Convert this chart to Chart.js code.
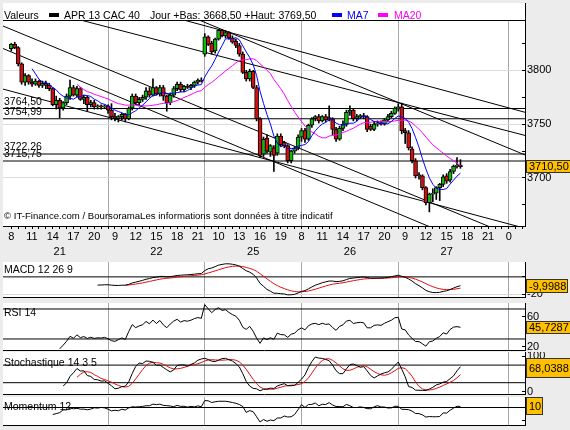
<!DOCTYPE html>
<html>
<head>
<meta charset="utf-8">
<script src="https://cdn.jsdelivr.net/npm/chart.js"></script>
<style>
  body { margin:0; width:570px; height:430px; overflow:hidden; position:relative; background:#ececec;
         font-family:"Liberation Sans", Arial, sans-serif; }
  .panel { position:absolute; left:3px; width:522px; background:#fff; }
  canvas { position:absolute; left:0; }
  #head { position:absolute; left:0; top:0; width:570px; height:20px; font-size:10.5px; }
  #head span { position:absolute; top:9px; line-height:12px; white-space:nowrap; }
  #head i { position:absolute; top:13px; width:10px; height:4px; }
  .rule { position:absolute; background:#000; }
</style>
</head>
<body>
<div class="panel" style="top:3px;height:223px"></div>
<div class="panel" style="top:262px;height:35px"></div>
<div class="panel" style="top:303px;height:47px"></div>
<div class="panel" style="top:352px;height:42px"></div>
<div class="panel" style="top:397px;height:28px"></div>

<canvas id="main" width="570" height="262" style="top:0"></canvas>
<canvas id="macd" width="570" height="36" style="top:262px"></canvas>
<canvas id="rsi" width="570" height="48" style="top:303px"></canvas>
<canvas id="stoch" width="570" height="43" style="top:352px"></canvas>
<canvas id="mom" width="570" height="29" style="top:397px"></canvas>

<div class="rule" style="left:3px;top:20px;width:523px;height:1px"></div>
<div class="rule" style="left:525px;top:3px;width:1px;height:18px"></div>
<div id="head">
  <span style="left:4px">Valeurs</span>
  <i style="left:49px;background:#000"></i>
  <span style="left:64px">APR 13 CAC 40</span>
  <span style="left:150px">Jour +Bas: 3668,50 +Haut: 3769,50</span>
  <i style="left:332px;background:#0000ff"></i>
  <span style="left:347px;color:#0000ff">MA7</span>
  <i style="left:378px;background:#ff00ff"></i>
  <span style="left:394px;color:#ff00ff">MA20</span>
</div>

<script>
// 30 min candles, trading day 8h-22h (14 hours on the axis)
const days = ['21', '22', '25', '26', '27'];
const candlesPerDay = [28, 28, 28, 28, 19];
const hourLabels = ['8','11','14','17','20', '9','12','15','18','21', '10','13','16','19',
                    '8','11','14','17','20', '9','12','15','18','21', '0'];
const dayCenters = [7, 21, 35, 49, 63];
const dayBounds = [14, 28, 42, 56, 72];

const opens = [
  3820,3824,3821,3806,3789,3795,3789,3787,3790,3786,3788,3786,3783,3768,3772,3765,3770,3776,3784,3777,3783,3773,3775,3768,3770,3766,3767,3766,
  3767,3763,3757,3755,3757,3759,3755,3765,3776,3770,3773,3775,3781,3777,3784,3778,3784,3776,3770,3777,3783,3787,3782,3785,3784,3786,3789,3791,
  3815,3831,3825,3818,3829,3837,3832,3835,3830,3827,3823,3815,3798,3792,3799,3784,3755,3722,3737,3724,3728,3723,3739,3733,3730,3716,3725,3728,
  3738,3744,3736,3749,3755,3757,3753,3757,3756,3755,3745,3736,3746,3750,3761,3763,3755,3757,3758,3757,3748,3745,3750,3751,3750,3754,3757,3760,
  3764,3766,3744,3742,3727,3716,3703,3702,3691,3677,3685,3686,3691,3694,3702,3698,3706,3711,3712
];
const highs = [
  3825,3826,3822,3807,3797,3796,3792,3792,3791,3790,3790,3788,3784,3776,3774,3771,3778,3791,3786,3785,3784,3777,3776,3772,3772,3768,3768,3768,
  3768,3769,3760,3758,3760,3760,3766,3778,3778,3775,3777,3784,3784,3792,3785,3786,3786,3777,3779,3785,3789,3789,3786,3787,3787,3790,3792,3793,
  3834,3832,3827,3830,3838,3838,3837,3836,3832,3829,3825,3817,3800,3801,3800,3786,3756,3738,3740,3731,3730,3741,3741,3734,3731,3726,3729,3740,
  3746,3746,3750,3756,3758,3759,3758,3759,3767,3756,3747,3748,3753,3763,3767,3764,3759,3759,3760,3758,3750,3752,3753,3753,3755,3759,3762,3766,
  3769,3769.5,3746,3744,3729,3718,3705,3703,3692,3686,3690,3692,3695,3703,3704,3708,3712,3719,3717
];
const lows = [
  3818,3820,3804,3787,3786,3787,3785,3786,3784,3784,3783,3781,3767,3764,3756,3763,3768,3773,3776,3775,3772,3769,3762,3766,3764,3764,3764,3765,
  3760,3754,3753,3752,3754,3752,3754,3763,3768,3767,3771,3773,3775,3776,3777,3776,3772,3762,3768,3775,3781,3780,3780,3783,3782,3784,3787,3789,
  3813,3823,3815,3816,3828,3831,3830,3829,3825,3821,3813,3797,3790,3790,3783,3753,3719,3720,3723,3720,3706,3721,3729,3728,3714,3714,3723,3726,
  3734,3733,3735,3747,3753,3751,3752,3752,3753,3740,3734,3735,3744,3748,3758,3753,3753,3755,3755,3743,3744,3744,3748,3749,3749,3752,3756,3759,
  3762,3741,3732,3726,3714,3700,3699,3689,3675,3668.5,3678,3680,3679,3692,3695,3696,3704,3709,3709
];
const closes = [
  3824,3821,3806,3789,3795,3789,3787,3790,3786,3788,3786,3783,3768,3772,3765,3770,3776,3784,3777,3783,3773,3775,3768,3770,3766,3767,3766,3767,
  3763,3757,3755,3757,3759,3755,3765,3776,3770,3773,3775,3781,3777,3784,3778,3784,3776,3770,3777,3783,3787,3782,3785,3784,3786,3789,3791,3790,
  3831,3824,3817,3829,3837,3832,3835,3830,3826,3823,3815,3798,3792,3799,3784,3755,3721,3736,3725,3730,3721,3739,3731,3730,3716,3725,3728,3738,
  3744,3736,3749,3755,3757,3753,3757,3754,3755,3745,3736,3746,3750,3761,3763,3755,3757,3758,3757,3745,3745,3750,3751,3750,3754,3757,3760,3765,
  3766,3744,3742,3728,3716,3702,3702,3691,3677,3685,3686,3691,3694,3701,3697,3706,3711,3712,3710.5
];

// support levels and trend lines (time in axis hours, price)
const levels = [3764.50, 3754.99, 3722.26, 3715.75];
const levelTexts = ['3764,50', '3754,99', '3722,26', '3715,75'];
const trendLines = [
  [-1.64, 3821.4, 62.3, 3650],
  [-1.64, 3783.3, 74.4, 3653.2],
  [-1.64, 3842.3, 71.0, 3650],
  [9.46, 3847.6, 74.34, 3739.5],
  [24.41, 3847.6, 74.34, 3761.0],
  [26.83, 3847.6, 74.34, 3721.4]
];

const priceTicks = [3675, 3700, 3725, 3750, 3775, 3800, 3825];
const lastValues = { price: 3710.50, macd: -9.9988, rsi: 45.7287, stoch: 68.0388, mom: 10 };
const lastTexts = { price: '3710,50', macd: '-9,9988', rsi: '45,7287', stoch: '68,0388', mom: '10' };
const copyright = '\u00a9 IT-Finance.com / BoursoramaLes informations sont donn\u00e9es \u00e0 titre indicatif';

const xMin = -1.2, xMax = 74.34;
const FONT = '"Liberation Sans", Arial, sans-serif';
Chart.defaults.font.family = FONT;
Chart.defaults.font.size = 11;
Chart.defaults.color = '#000';

const times = [];
candlesPerDay.forEach((n, d) => { for (let s = 0; s < n; s++) times.push(d * 14 + s * 0.5); });

// indicators
function sma(arr, n) {
  return arr.map((v, i) => {
    if (i < n - 1) return null;
    let s = 0;
    for (let k = i - n + 1; k <= i; k++) { if (arr[k] == null) return null; s += arr[k]; }
    return s / n;
  });
}
function ema(arr, n) {
  const out = arr.map(() => null);
  const start = arr.findIndex(v => v != null);
  const seed = start + n - 1;
  if (start < 0 || seed >= arr.length) return out;
  let s = 0;
  for (let i = start; i <= seed; i++) s += arr[i];
  out[seed] = s / n;
  const k = 2 / (n + 1);
  for (let i = seed + 1; i < arr.length; i++) out[i] = arr[i] * k + out[i - 1] * (1 - k);
  return out;
}
function rsi(c, n) {
  const out = c.map(() => null);
  let g = 0, l = 0;
  for (let i = 1; i <= n; i++) { const d = c[i] - c[i - 1]; if (d > 0) g += d; else l -= d; }
  g /= n; l /= n;
  out[n] = l === 0 ? 100 : 100 - 100 / (1 + g / l);
  for (let i = n + 1; i < c.length; i++) {
    const d = c[i] - c[i - 1];
    g = (g * (n - 1) + Math.max(d, 0)) / n;
    l = (l * (n - 1) + Math.max(-d, 0)) / n;
    out[i] = l === 0 ? 100 : 100 - 100 / (1 + g / l);
  }
  return out;
}

const ma7 = sma(closes, 7);
const ma20 = sma(closes, 20);
const ema12 = ema(closes, 12), ema26 = ema(closes, 26);
const macd = closes.map((_, i) => ema12[i] != null && ema26[i] != null ? ema12[i] - ema26[i] : null);
const signal = ema(macd, 9);
const rsi14 = rsi(closes, 14);
const rawK = closes.map((c, i) => {
  if (i < 13) return null;
  const hh = Math.max(...highs.slice(i - 13, i + 1)), ll = Math.min(...lows.slice(i - 13, i + 1));
  return (c - ll) / (hh - ll) * 100;
});
const stochK = sma(rawK, 3);
const stochD = sma(stochK, 5);
const mom12 = closes.map((c, i) => i < 12 ? null : c - closes[i - 12]);

const pts = arr => arr.map((v, i) => v == null ? null : { x: times[i], y: v }).filter(Boolean);
const lineDs = (data, color, order) => ({ type: 'line', data, borderColor: color, borderWidth: 1,
  pointRadius: 0, order: order || 1 });
const hline = (v, order) => lineDs([{ x: xMin - 1, y: v }, { x: xMax + 1, y: v }], '#000', order || 5);

function drawBox(ctx, text, x, yc, h) {
  ctx.font = '11px ' + FONT;
  const w = Math.round(ctx.measureText(text).width) + 5;
  const top = Math.round(yc - h / 2);
  ctx.fillStyle = '#ffc000';
  ctx.fillRect(x, top, w, h);
  ctx.strokeStyle = '#333';
  ctx.lineWidth = 1;
  ctx.strokeRect(x + 0.5, top + 0.5, w - 1, h - 1);
  ctx.fillStyle = '#000';
  ctx.textAlign = 'left';
  ctx.textBaseline = 'middle';
  ctx.fillText(text, x + 3, top + h / 2 + 0.5);
}

const noPad = s => { s.paddingTop = 0; s.paddingBottom = 0; s.paddingLeft = 0; s.paddingRight = 0; };

// main price chart
const mainText = {
  id: 'mainText',
  afterDraw(chart) {
    const { ctx } = chart;
    const y = chart.scales.y;
    ctx.save();
    ctx.fillStyle = '#000';
    ctx.textAlign = 'left';
    ctx.textBaseline = 'middle';
    ctx.font = '10.5px ' + FONT;
    levels.forEach((lv, i) => ctx.fillText(levelTexts[i], 4, y.getPixelForValue(lv) - 6.5));
    ctx.font = '9.6px ' + FONT;
    ctx.fillText(copyright, 4, 216);
    drawBox(ctx, lastTexts.price, 526, y.getPixelForValue(lastValues.price), 13);
    ctx.restore();
  }
};

new Chart(document.getElementById('main'), {
  type: 'bar',
  data: {
    datasets: [
      lineDs(pts(ma7), '#0000ff', 1),
      lineDs(pts(ma20), '#ff00ff', 2),
      {
        data: times.map((t, i) => ({ x: t, y: [opens[i], closes[i]] })),
        backgroundColor: closes.map((c, i) => c >= opens[i] ? '#10b810' : '#d01010'),
        borderColor: '#000', borderWidth: 1, borderSkipped: false,
        barThickness: 4, minBarLength: 1, grouped: false, order: 3
      },
      {
        data: times.map((t, i) => ({ x: t, y: [lows[i], highs[i]] })),
        backgroundColor: '#000', barThickness: 1, grouped: false, order: 4
      },
      ...levels.map(lv => hline(lv, 5)),
      ...trendLines.map(([x1, y1, x2, y2]) => lineDs([{ x: x1, y: y1 }, { x: x2, y: y2 }], '#000', 6))
    ]
  },
  options: {
    responsive: false, animation: false, events: [],
    layout: { padding: { left: 3, top: 20, right: 0, bottom: 0 } },
    plugins: { legend: { display: false }, tooltip: { enabled: false } },
    scales: {
      x: {
        type: 'linear', axis: 'x', position: 'bottom', min: xMin, max: xMax, offset: false, weight: 0,
        afterBuildTicks: s => { s.ticks = []; for (let v = 0; v <= 74; v++) s.ticks.push({ value: v }); },
        afterFit: s => { s.height = 18; noPad(s); },
        grid: { offset: false, color: c => dayBounds.includes(c.tick && c.tick.value) ? '#a8a8a8' : 'rgba(0,0,0,0)',
                tickColor: '#000', tickLength: 3 },
        border: { color: '#000' },
        ticks: { autoSkip: false, maxRotation: 0, padding: 1,
                 callback: v => v % 3 === 0 ? hourLabels[v / 3] : '' }
      },
      xd: {
        type: 'linear', axis: 'x', position: 'bottom', min: xMin, max: xMax, offset: false, weight: 1,
        afterBuildTicks: s => { s.ticks = dayCenters.map(v => ({ value: v })); },
        afterFit: s => { s.height = 18; noPad(s); },
        grid: { display: false, drawTicks: false, tickLength: 0 }, border: { display: false },
        ticks: { autoSkip: false, maxRotation: 0, padding: 1, callback: (v, i) => days[i] }
      },
      y: {
        position: 'right', min: 3655.4, max: 3846.7,
        afterBuildTicks: s => { s.ticks = priceTicks.map(v => ({ value: v })); },
        afterFit: s => { s.width = 45; noPad(s); },
        grid: { color: c => c.tick && c.tick.value % 50 === 0 ? '#dcdcdc' : 'rgba(0,0,0,0)',
                tickColor: '#000', tickLength: -3 },
        border: { color: '#000' },
        ticks: { padding: 5, callback: v => v % 50 === 0 ? String(v) : '' }
      }
    }
  },
  plugins: [mainText]
});

// indicator panels
function panel(id, cfg) {
  const textPlugin = {
    id: id + 'Text',
    afterDraw(chart) {
      const { ctx } = chart;
      ctx.save();
      ctx.fillStyle = '#000';
      ctx.textAlign = 'left';
      ctx.textBaseline = 'middle';
      ctx.font = '10.5px ' + FONT;
      ctx.fillText(cfg.title, 4, cfg.titleY);
      drawBox(ctx, cfg.boxText, 526, chart.scales.y.getPixelForValue(cfg.boxValue), cfg.boxH);
      ctx.restore();
    }
  };
  new Chart(document.getElementById(id), {
    type: 'line',
    data: { datasets: [...cfg.series, ...cfg.refs.map(v => hline(v, 5))] },
    options: {
      responsive: false, animation: false, events: [],
      layout: { padding: { left: 3, top: 0, right: 0, bottom: 0 } },
      plugins: { legend: { display: false }, tooltip: { enabled: false } },
      scales: {
        x: {
          type: 'linear', min: xMin, max: xMax,
          afterBuildTicks: s => { s.ticks = dayBounds.map(v => ({ value: v })); },
          afterFit: s => { s.height = 1; noPad(s); },
          grid: { color: '#a8a8a8', drawTicks: false },
          border: { color: '#000' },
          ticks: { display: false }
        },
        y: {
          position: 'right', min: cfg.min, max: cfg.max,
          afterBuildTicks: s => { s.ticks = cfg.ticks.map(v => ({ value: v })); },
          afterFit: s => { s.width = 45; noPad(s); },
          grid: { color: c => cfg.gridAt.includes(c.tick && c.tick.value) ? '#d8d8d8' : 'rgba(0,0,0,0)',
                  tickColor: '#000', tickLength: -3 },
          border: { color: '#000' },
          ticks: { padding: 5, callback: (v, i) => cfg.labels[i] }
        }
      }
    },
    plugins: [textPlugin]
  });
}

panel('macd', {
  min: -23.1, max: 17.1, ticks: [-20, -10, 0, 10], labels: ['-20', '', '', ''], gridAt: [-20],
  series: [lineDs(pts(macd), '#000', 1), lineDs(pts(signal), '#e01010', 2)],
  refs: [0], title: 'MACD 12 26 9', titleY: 8,
  boxText: lastTexts.macd, boxValue: lastValues.macd, boxH: 14
});
panel('rsi', {
  min: 15.3, max: 78, ticks: [20, 40, 60], labels: ['20', '40', '60'], gridAt: [],
  series: [lineDs(pts(rsi14), '#000', 1)],
  refs: [70, 30], title: 'RSI 14', titleY: 10,
  boxText: lastTexts.rsi, boxValue: lastValues.rsi, boxH: 13
});
panel('stoch', {
  min: -7.1, max: 112.2, ticks: [0, 50, 100], labels: ['0', '50', '100'], gridAt: [],
  series: [lineDs(pts(stochK), '#000', 1), lineDs(pts(stochD), '#e01010', 2)],
  refs: [75, 25], title: 'Stochastique 14 3 5', titleY: 11,
  boxText: lastTexts.stoch, boxValue: lastValues.stoch, boxH: 20
});
panel('mom', {
  min: -140, max: 84, ticks: [-100, 0], labels: ['', ''], gridAt: [],
  series: [lineDs(pts(mom12), '#000', 1)],
  refs: [0], title: 'Momentum 12', titleY: 10,
  boxText: lastTexts.mom, boxValue: lastValues.mom, boxH: 18
});
</script>
</body>
</html>
